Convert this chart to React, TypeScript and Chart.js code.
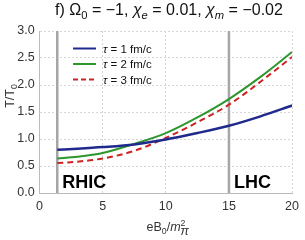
import React, { useEffect, useRef } from "react";
import { Chart, registerables } from "chart.js";

Chart.register(...registerables);

const xValues = [1.4, 3, 5, 7.5, 10, 12.5, 15, 17.5, 20];
const tau1 = [0.8, 0.82, 0.85, 0.9, 0.99, 1.11, 1.245, 1.42, 1.62];
const tau2 = [0.64, 0.67, 0.74, 0.91, 1.11, 1.4, 1.74, 2.15, 2.61];
const tau3 = [0.555, 0.58, 0.64, 0.78, 1.02, 1.31, 1.635, 2.06, 2.52];
const seriesLabels = ["1", "2", "3"];
const markerX = [1.4, 15];
const markerLabels = ["RHIC", "LHC"];

type Run = { t: string; it?: boolean; s?: "sub" | "sup" };

function runsWidth(ctx: CanvasRenderingContext2D, runs: Run[], size: number, fam: string) {
  let w = 0;
  for (const r of runs) {
    const fs = r.s ? size * 0.7 : size;
    ctx.font = `${r.it ? "italic " : ""}${fs}px ${fam}`;
    w += ctx.measureText(r.t).width;
  }
  return w;
}

function drawRuns(ctx: CanvasRenderingContext2D, runs: Run[], x: number, y: number, size: number, fam: string, align: "left" | "center") {
  let cx = align === "center" ? x - runsWidth(ctx, runs, size, fam) / 2 : x;
  ctx.textAlign = "left";
  ctx.textBaseline = "alphabetic";
  for (const r of runs) {
    const fs = r.s ? size * 0.7 : size;
    ctx.font = `${r.it ? "italic " : ""}${fs}px ${fam}`;
    const dy = r.s === "sub" ? size * 0.25 : r.s === "sup" ? -size * 0.4 : 0;
    ctx.fillText(r.t, cx, y + dy);
    cx += ctx.measureText(r.t).width;
  }
}

const FAM = "'Liberation Sans', Arial, sans-serif";

const annotPlugin = {
  id: "annot",
  beforeDatasetsDraw(chart: any) {
    const { ctx, chartArea, scales } = chart;
    ctx.save();
    ctx.strokeStyle = "#a6a6a6";
    ctx.lineWidth = 2.5;
    markerX.forEach((v) => {
      const px = scales.x.getPixelForValue(v);
      ctx.beginPath();
      ctx.moveTo(px, chartArea.top);
      ctx.lineTo(px, chartArea.bottom);
      ctx.stroke();
    });
    ctx.restore();
  },
  afterDraw(chart: any) {
    const { ctx, chartArea, scales } = chart;
    ctx.save();
    ctx.fillStyle = "#000";
    ctx.font = `bold 18px ${FAM}`;
    ctx.textAlign = "left";
    ctx.textBaseline = "alphabetic";
    markerX.forEach((v, i) => {
      const px = scales.x.getPixelForValue(v);
      ctx.fillText(markerLabels[i], px + 5, chartArea.bottom - 5.5);
    });
    const title: Run[] = [
      { t: "f) Ω" },
      { t: "0", s: "sub" },
      { t: " = −1, " },
      { t: "χ", it: true },
      { t: "e", it: true, s: "sub" },
      { t: " = 0.01, " },
      { t: "χ", it: true },
      { t: "m", it: true, s: "sub" },
      { t: " = −0.02" },
    ];
    ctx.fillStyle = "#111";
    drawRuns(ctx, title, 169, 15, 16, FAM, "center");
    const xt: Run[] = [
      { t: "eB" },
      { t: "0", s: "sub" },
      { t: "/" },
      { t: "m", it: true },
      { t: "2", s: "sup" },
    ];
    ctx.fillStyle = "#333";
    const w = runsWidth(ctx, xt, 12.5, FAM);
    const startX = 166 - w / 2;
    drawRuns(ctx, xt, startX, 231, 12.5, FAM, "left");
    ctx.font = `italic ${12.5 * 0.7}px ${FAM}`;
    const w2 = runsWidth(ctx, xt.slice(0, 4), 12.5, FAM);
    ctx.fillText("π", startX + w2, 231 + 3.5);
    ctx.save();
    ctx.translate(14, 96);
    ctx.rotate(-Math.PI / 2);
    drawRuns(ctx, [{ t: "T/T" }, { t: "0", s: "sub" }], 0, 0, 12.5, FAM, "center");
    ctx.restore();
    const colors = ["#1f2a8c", "#2e962e", "#cc2222"];
    const ys = [48.5, 64, 79.5];
    ys.forEach((yy, i) => {
      ctx.strokeStyle = colors[i];
      ctx.lineWidth = 2;
      ctx.setLineDash(i === 2 ? [5, 3] : []);
      ctx.beginPath();
      ctx.moveTo(73, yy);
      ctx.lineTo(96, yy);
      ctx.stroke();
      ctx.setLineDash([]);
      ctx.fillStyle = "#111";
      drawRuns(ctx, [{ t: "τ", it: true }, { t: ` = ${seriesLabels[i]} fm/c` }], 103, yy + 4, 11.5, FAM, "left");
    });
    ctx.restore();
  },
};

export default function App() {
  const ref = useRef<HTMLCanvasElement>(null);
  useEffect(() => {
    if (!ref.current) return;
    const mk = (arr: number[]) => xValues.map((x, i) => ({ x, y: arr[i] }));
    const chart = new Chart(ref.current, {
      type: "line",
      data: {
        datasets: [
          { data: mk(tau1), borderColor: "#1f2a8c", borderWidth: 2.5 },
          { data: mk(tau2), borderColor: "#2e962e", borderWidth: 2 },
          { data: mk(tau3), borderColor: "#cc2222", borderWidth: 2, borderDash: [6, 4] },
        ].map((d) => ({ ...d, pointRadius: 0, fill: false, cubicInterpolationMode: "monotone" as const })),
      },
      options: {
        animation: false,
        responsive: false,
        devicePixelRatio: 1,
        layout: { padding: { top: 31, right: 7.7, left: 0, bottom: 0 } },
        plugins: { legend: { display: false }, title: { display: false }, tooltip: { enabled: false } },
        scales: {
          x: {
            type: "linear",
            min: 0,
            max: 20,
            ticks: { stepSize: 5, color: "#333", font: { size: 12.5, family: FAM }, padding: 6, maxRotation: 0 },
            grid: { color: "#d6d6d6", drawTicks: false },
            border: { color: "#bbbbbb", dash: [2, 2] },
            afterFit: (s: any) => { s.height = 47; },
          },
          y: {
            min: 0,
            max: 3,
            ticks: { stepSize: 0.5, color: "#333", font: { size: 12.5, family: FAM }, padding: 5, callback: (v: any) => Number(v).toFixed(1) },
            grid: { color: "#d6d6d6", drawTicks: false },
            border: { color: "#bbbbbb", dash: [2, 2] },
            afterFit: (s: any) => { s.width = 39.6; },
          },
        },
      },
      plugins: [annotPlugin],
    });
    return () => chart.destroy();
  }, []);
  return (
    <div style={{ position: "fixed", left: 0, top: 0, width: 305, height: 240, background: "#fff" }}>
      <canvas ref={ref} width={305} height={240} style={{ width: 305, height: 240 }} />
    </div>
  );
}
